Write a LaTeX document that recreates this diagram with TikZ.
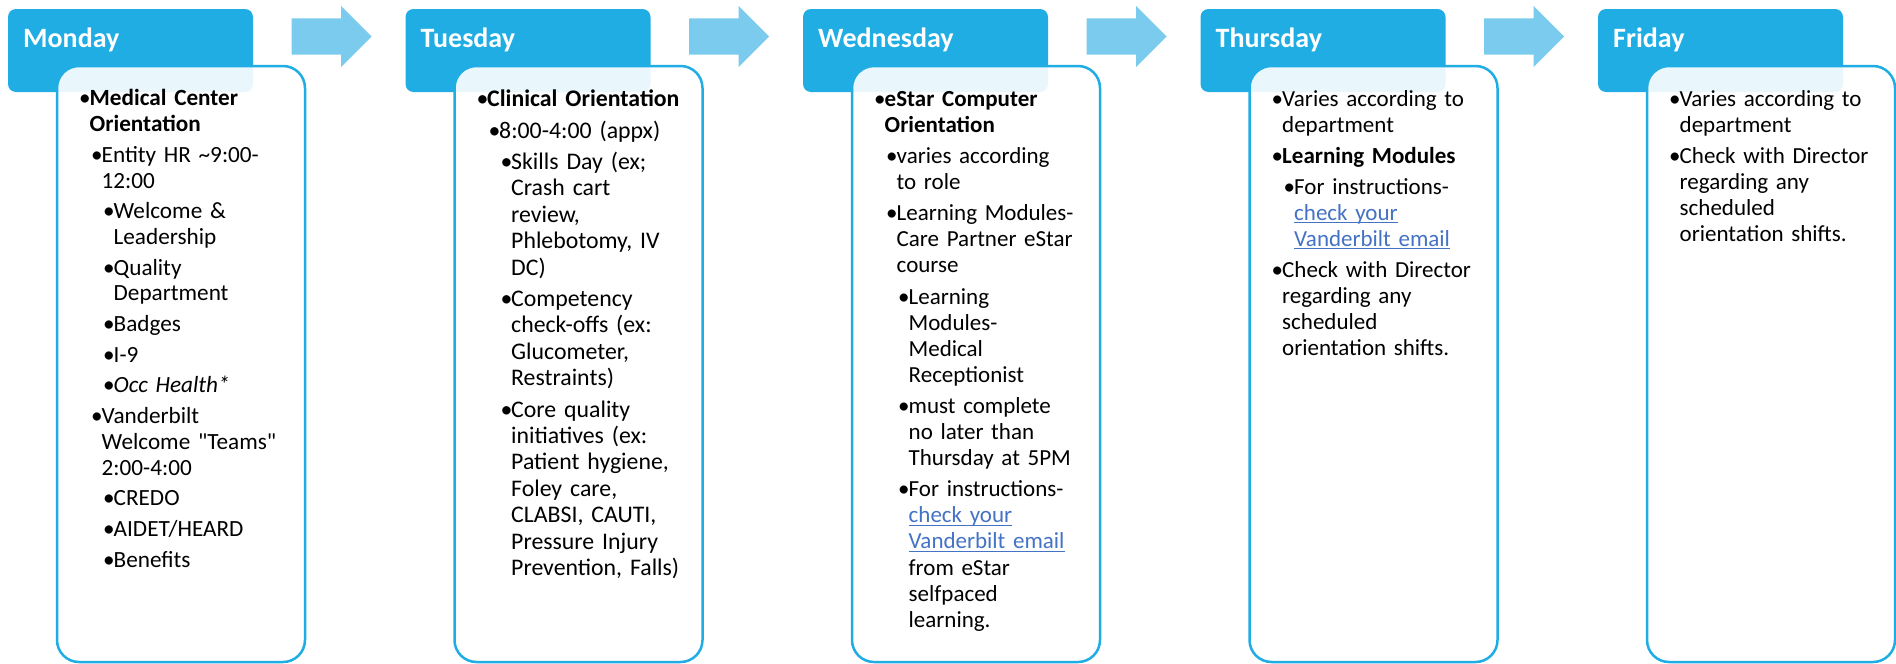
\documentclass[tikz,border=0pt]{standalone}
\usepackage{fontspec}
\setmainfont{Carlito}
\usetikzlibrary{shapes.arrows,calc}

\definecolor{headblue}{HTML}{1FADE4}
\definecolor{arrowblue}{HTML}{7BCBEE}
\definecolor{linkblue}{HTML}{4472C4}

% one bullet point: #1 = left indent in pt, #2 = lines
\newcommand\itm[2]{\par\parskip=5pt\leftskip=#1pt\hangindent=10.5pt\hangafter=1%
  \noindent\strut\makebox[10.5pt][l]{\textbullet}#2\par}
% underlined link text
\newcommand\lnk[1]{{\color{linkblue}\setbox0=\hbox{#1}\rlap{\rule[-3pt]{\wd0}{1.3pt}}\box0}}

\begin{document}
\begin{tikzpicture}[x=1pt,y=-1pt,
  dayhead/.style={fill=headblue, rounded corners=8pt, minimum width=245pt,
    minimum height=83pt, inner sep=0pt, outer sep=0pt, anchor=north west},
  dayname/.style={text=white, font=\bfseries\fontsize{28}{32}\selectfont,
    inner sep=0pt, anchor=west},
  daybody/.style={draw=headblue, line width=2.5pt, fill=white, fill opacity=0.9,
    rounded corners=22pt, minimum width=248pt, minimum height=596pt,
    inner sep=0pt, outer sep=0pt, anchor=north west},
  daytext/.style={text width=240pt, align=left, inner sep=0pt, anchor=north west,
    font=\fontsize{23}{26}\selectfont},
  nextday/.style={single arrow, fill=arrowblue, minimum height=80pt,
    inner xsep=0pt, inner ysep=18pt, single arrow head extend=12.5pt,
    single arrow tip angle=90, anchor=tail}]
  \useasboundingbox (0,0) rectangle (1896,664);

  % day headers
  \foreach \d/\x in {mon/8, tue/405.5, wed/803, thu/1200.5, fri/1598}
    \node[dayhead] (\d H) at (\x,9) {};
  \foreach \d/\t in {mon/Monday, tue/Tuesday, wed/Wednesday, thu/Thursday, fri/Friday}
    \node[dayname] (\d N) at ([xshift=15pt,yshift=-31pt]\d H.north west) {\t};

  % arrows between the days
  \foreach \a in {mon, tue, wed, thu}
    \node[nextday] (\a A) at ($(\a H.north east)+(38.5,27.5)$) {};

  % content boxes
  \foreach \d in {mon, tue, wed, thu, fri}
    \node[daybody] (\d B) at ([xshift=49pt,yshift=-57pt]\d H.north west) {};

  \node[daytext, font=\fontsize{23.2}{25.7}\selectfont] (monL)
    at ([xshift=22pt,yshift=-9pt]monB.north west) {%
    \itm{0}{\textbf{Medical Center\newline Orientation}}
    \itm{12}{Entity HR \textasciitilde9:00-\newline 12:00}
    \itm{24}{Welcome \&\newline Leadership}
    \itm{24}{Quality\newline Department}
    \itm{24}{Badges}
    \itm{24}{I-9}
    \itm{24}{\textit{Occ Health*}}
    \itm{12}{Vanderbilt\newline Welcome \textquotedbl Teams\textquotedbl\newline 2:00-4:00}
    \itm{24}{CREDO}
    \itm{24}{AIDET/HEARD}
    \itm{24}{Benefits}};

  \node[daytext, font=\fontsize{23.8}{26.4}\selectfont] (tueL)
    at ([xshift=22pt,yshift=-9pt]tueB.north west) {%
    \itm{0}{\textbf{Clinical Orientation}}
    \itm{12}{8:00-4:00 (appx)}
    \itm{24}{Skills Day (ex;\newline Crash cart\newline review,\newline Phlebotomy, IV\newline DC)}
    \itm{24}{Competency\newline check-offs (ex:\newline Glucometer,\newline Restraints)}
    \itm{24}{Core quality\newline initiatives (ex:\newline Patient hygiene,\newline Foley care,\newline CLABSI, CAUTI,\newline Pressure Injury\newline Prevention, Falls)}};

  \node[daytext, font=\fontsize{23}{26.1}\selectfont] (wedL)
    at ([xshift=22pt,yshift=-9pt]wedB.north west) {%
    \itm{0}{\textbf{eStar Computer\newline Orientation}}
    \itm{12}{varies according\newline to role}
    \itm{12}{Learning Modules-\newline Care Partner eStar\newline course}
    \itm{24}{Learning\newline Modules-\newline Medical\newline Receptionist}
    \itm{24}{must complete\newline no later than\newline Thursday at 5PM}
    \itm{24}{For instructions-\newline \lnk{check your}\newline \lnk{Vanderbilt email}\newline from eStar\newline selfpaced\newline learning.}};

  \node[daytext] (thuL) at ([xshift=22pt,yshift=-9pt]thuB.north west) {%
    \itm{0}{Varies according to\newline department}
    \itm{0}{\textbf{Learning Modules}}
    \itm{12}{For instructions-\newline \lnk{check your}\newline \lnk{Vanderbilt email}}
    \itm{0}{Check with Director\newline regarding any\newline scheduled\newline orientation shifts.}};

  \node[daytext] (friL) at ([xshift=22pt,yshift=-9pt]friB.north west) {%
    \itm{0}{Varies according to\newline department}
    \itm{0}{Check with Director\newline regarding any\newline scheduled\newline orientation shifts.}};
\end{tikzpicture}
\end{document}
